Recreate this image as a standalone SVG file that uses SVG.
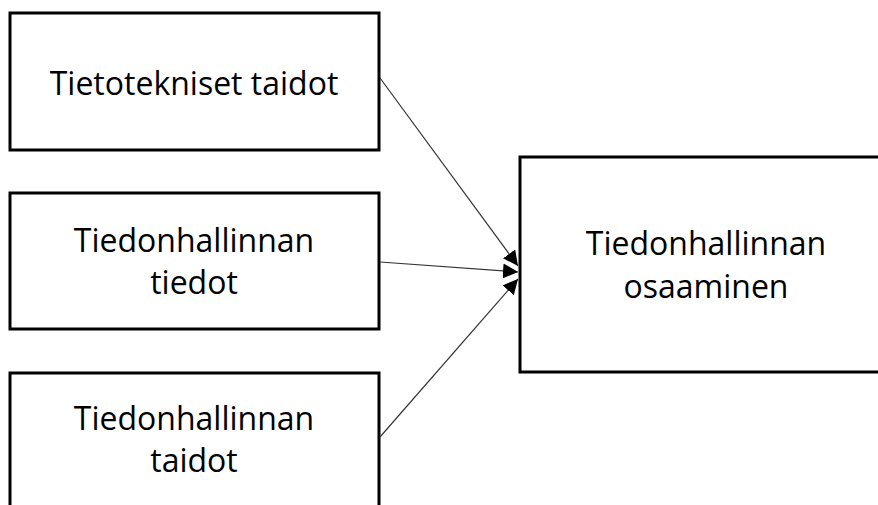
<svg xmlns="http://www.w3.org/2000/svg" width="878" height="505" viewBox="0 0 878 505">
<style>
.box{fill:#fff;stroke:#000;stroke-width:3}
.lbl{font-family:"Open Sans","Noto Sans",sans-serif;font-size:32px;fill:#000;text-anchor:middle}
.edge{stroke:#333;stroke-width:1.2;fill:none;marker-end:url(#ah)}
</style>
<defs>
<marker id="ah" viewBox="0 0 10 10" refX="10" refY="5" markerWidth="15" markerHeight="15" markerUnits="userSpaceOnUse" orient="auto">
<path d="M0,0 L10,5 L0,10 z" fill="#000"/>
</marker>
</defs>
<rect width="878" height="505" fill="#fff"/>
<g id="n1">
<rect class="box" x="10" y="13" width="369" height="137"/>
<text class="lbl" x="194" y="95">Tietotekniset taidot</text>
</g>
<g id="n2">
<rect class="box" x="10" y="193" width="369" height="136"/>
<text class="lbl" x="194" y="252">Tiedonhallinnan</text>
<text class="lbl" x="194" y="294">tiedot</text>
</g>
<g id="n3">
<rect class="box" x="10" y="373" width="369" height="150"/>
<text class="lbl" x="194" y="430">Tiedonhallinnan</text>
<text class="lbl" x="194" y="472">taidot</text>
</g>
<g id="n4">
<rect class="box" x="520" y="157" width="372" height="215"/>
<text class="lbl" x="706" y="255">Tiedonhallinnan</text>
<text class="lbl" x="706" y="298">osaaminen</text>
</g>
<g id="edges">
<line class="edge" x1="380" y1="78" x2="518" y2="266"/>
<line class="edge" x1="380" y1="262" x2="518" y2="272"/>
<line class="edge" x1="380" y1="437" x2="518" y2="279"/>
</g>
</svg>
